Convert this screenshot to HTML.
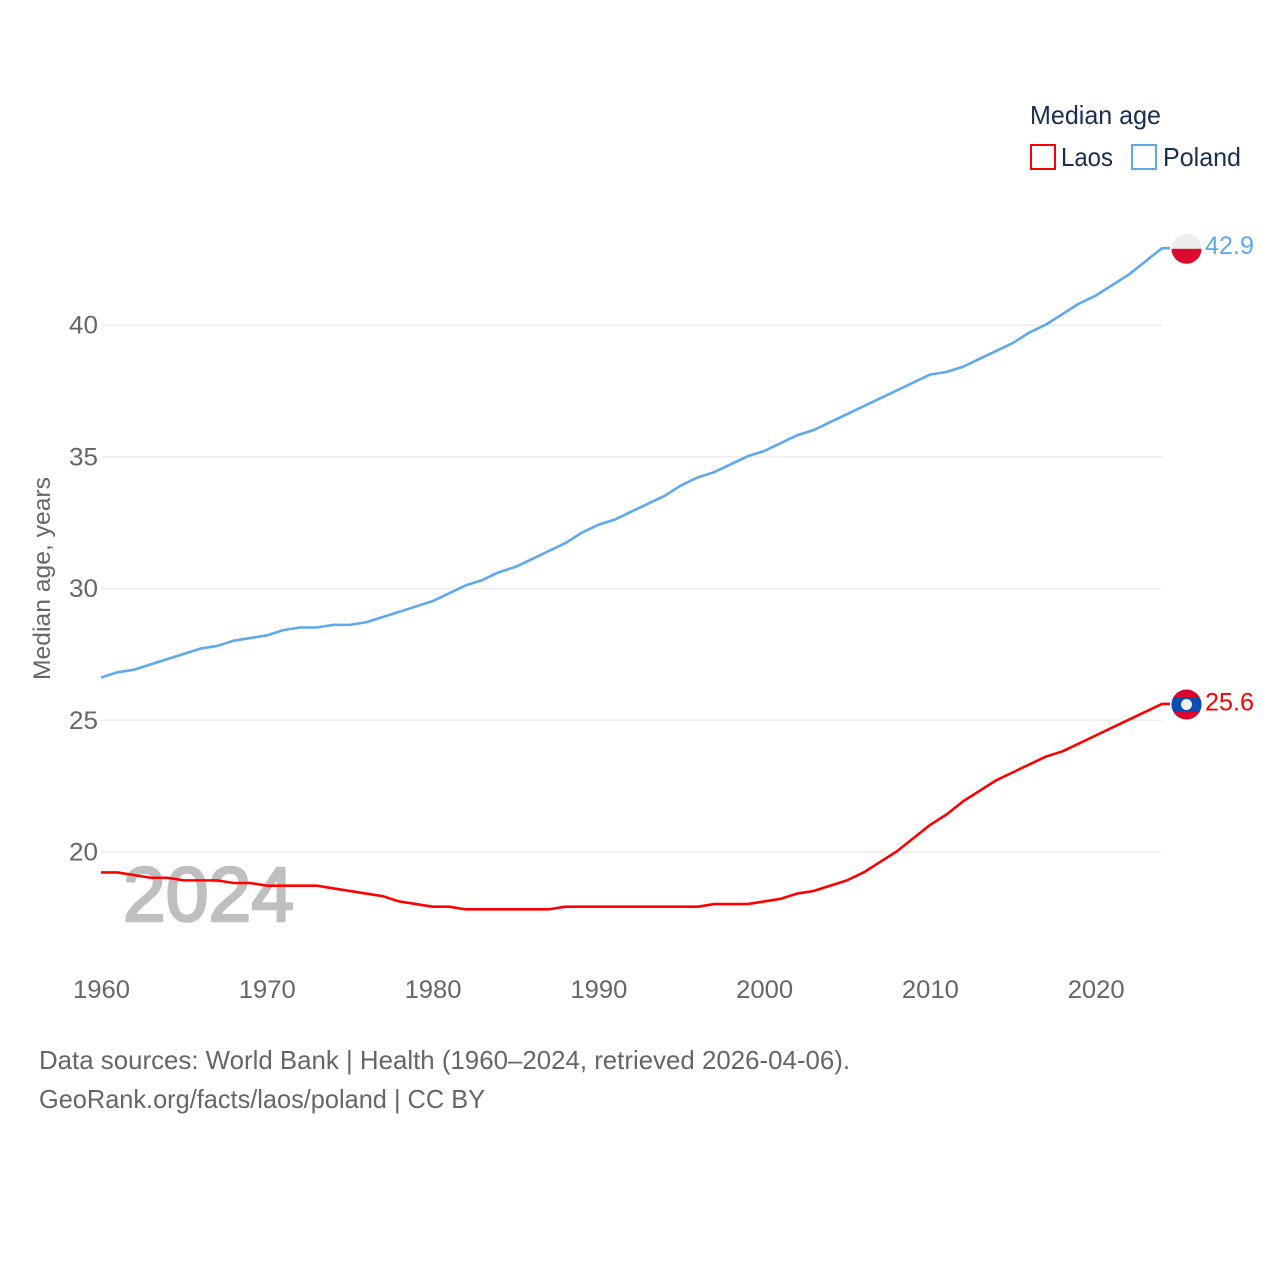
<!DOCTYPE html>
<html>
<head>
<meta charset="utf-8">
<title>Median age: Laos and Poland</title>
<style>
html,body{margin:0;padding:0;background:#fff;width:1280px;height:1280px;overflow:hidden}
svg{display:block;font-family:"Liberation Sans",sans-serif}
</style>
</head>
<body>
<svg id="chart" xmlns="http://www.w3.org/2000/svg" width="1280" height="1280" viewBox="0 0 1280 1280">
  <rect width="1280" height="1280" fill="#ffffff"/>
  <g id="grid"></g>
  <g id="yticks"></g>
  <g id="xticks"></g>
  <text x="123" y="921" font-size="77" font-weight="400" fill="#bfbfbf" stroke="#bfbfbf" stroke-width="2.6" stroke-linejoin="round" textLength="171" lengthAdjust="spacingAndGlyphs">2024</text>
  <text transform="translate(50,680) rotate(-90)" font-size="24.5" fill="#666666" textLength="203" lengthAdjust="spacingAndGlyphs">Median age, years</text>
  <g id="series"></g>

  <clipPath id="flag-pl-clip"><circle id="pl-clip-c" r="15"/></clipPath>
  <clipPath id="flag-la-clip"><circle id="la-clip-c" r="15"/></clipPath>
  <g id="flag-poland" clip-path="url(#flag-pl-clip)"></g>
  <g id="flag-laos" clip-path="url(#flag-la-clip)"></g>
  <g id="endlabels"></g>

  <g>
    <text x="1030" y="124" font-size="26" fill="#1a2f4f" textLength="131" lengthAdjust="spacingAndGlyphs">Median age</text>
    <rect x="1031" y="145" width="24" height="24" fill="#ffffff" stroke="#ff0000" stroke-width="2"/>
    <text x="1061" y="166" font-size="26" fill="#1a2f4f" textLength="52" lengthAdjust="spacingAndGlyphs">Laos</text>
    <rect x="1132" y="145" width="24" height="24" fill="#ffffff" stroke="#5fa8ee" stroke-width="2"/>
    <text x="1163" y="166" font-size="26" fill="#1a2f4f" textLength="78" lengthAdjust="spacingAndGlyphs">Poland</text>
  </g>

  <text x="39" y="1069" font-size="26" fill="#666666" textLength="811" lengthAdjust="spacingAndGlyphs">Data sources: World Bank | Health (1960–2024, retrieved 2026-04-06).</text>
  <text x="39" y="1108" font-size="26" fill="#666666" textLength="446" lengthAdjust="spacingAndGlyphs">GeoRank.org/facts/laos/poland | CC BY</text>
</svg>
<script>
const firstYear = 1960;
const lastYear = 2024;
const yTickValues = [20, 25, 30, 35, 40];
const xTickValues = [1960, 1970, 1980, 1990, 2000, 2010, 2020];
const polandValues = [26.6,26.8,26.9,27.1,27.3,27.5,27.7,27.8,28.0,28.1,28.2,28.4,28.5,28.5,28.6,28.6,28.7,28.9,29.1,29.3,29.5,29.8,30.1,30.3,30.6,30.8,31.1,31.4,31.7,32.1,32.4,32.6,32.9,33.2,33.5,33.9,34.2,34.4,34.7,35.0,35.2,35.5,35.8,36.0,36.3,36.6,36.9,37.2,37.5,37.8,38.1,38.2,38.4,38.7,39.0,39.3,39.7,40.0,40.4,40.8,41.1,41.5,41.9,42.4,42.9];
const laosValues = [19.2,19.2,19.1,19.0,19.0,18.9,18.9,18.9,18.8,18.8,18.7,18.7,18.7,18.7,18.6,18.5,18.4,18.3,18.1,18.0,17.9,17.9,17.8,17.8,17.8,17.8,17.8,17.8,17.9,17.9,17.9,17.9,17.9,17.9,17.9,17.9,17.9,18.0,18.0,18.0,18.1,18.2,18.4,18.5,18.7,18.9,19.2,19.6,20.0,20.5,21.0,21.4,21.9,22.3,22.7,23.0,23.3,23.6,23.8,24.1,24.4,24.7,25.0,25.3,25.6];

const NS = 'http://www.w3.org/2000/svg';
const plotLeft = 101, plotRight = 1162;
function xScale(year) { return plotLeft + (year - firstYear) * (plotRight - plotLeft) / (lastYear - firstYear); }
function yScale(v) { return 852 - (v - 20) * (852 - 325.2) / 20; }
function make(tag, attrs, parent, text) {
  const el = document.createElementNS(NS, tag);
  for (const k in attrs) el.setAttribute(k, attrs[k]);
  if (text !== undefined) el.textContent = text;
  parent.appendChild(el);
  return el;
}

const grid = document.getElementById('grid');
const yticks = document.getElementById('yticks');
yTickValues.forEach(function (v) {
  const line = make('line', {x1: plotLeft, x2: plotRight, y1: yScale(v), y2: yScale(v), stroke: '#eeeeee', 'stroke-width': 1.5}, grid);
  
  
  const label = make('text', {x: 98, y: yScale(v) + 8.5, 'text-anchor': 'end', 'font-size': 25, fill: '#666666', textLength: 29, lengthAdjust: 'spacingAndGlyphs'}, yticks, String(v));
  
  
});

const xticks = document.getElementById('xticks');
xTickValues.forEach(function (yr) {
  const label = make('text', {x: xScale(yr) + 0.5, y: 998, 'text-anchor': 'middle', 'font-size': 25, fill: '#666666', textLength: 57, lengthAdjust: 'spacingAndGlyphs'}, xticks, String(yr));
  
  
});

function drawSeries(values, color, seriesName) {
  const g = document.getElementById('series');
  const pts = values.map(function (v, i) { return xScale(firstYear + i).toFixed(2) + ',' + (yScale(v) - 0.6).toFixed(2); });
  const lastY = (yScale(values[values.length - 1]) - 0.6).toFixed(2);
  pts.push((plotRight + 8) + ',' + lastY);
  const line = make('polyline', {points: pts.join(' '), fill: 'none', stroke: color, 'stroke-width': 2.6, 'stroke-linejoin': 'round'}, g);
  
  
}
drawSeries(polandValues, '#5fa8ee', 'poland-line');
drawSeries(laosValues, '#ff0000', 'laos-line');

const flagX = 1186.5;
const plEnd = polandValues[polandValues.length - 1];
const laEnd = laosValues[laosValues.length - 1];
const plY = yScale(plEnd);
const laY = yScale(laEnd);

document.getElementById('pl-clip-c').setAttribute('cx', flagX);
document.getElementById('pl-clip-c').setAttribute('cy', plY);
document.getElementById('la-clip-c').setAttribute('cx', flagX);
document.getElementById('la-clip-c').setAttribute('cy', laY);

const fp = document.getElementById('flag-poland');
make('rect', {x: flagX - 15, y: plY - 15, width: 30, height: 15, fill: '#eeeeee'}, fp);
make('rect', {x: flagX - 15, y: plY, width: 30, height: 15, fill: '#dc0a2d'}, fp);

const fl = document.getElementById('flag-laos');
make('rect', {x: flagX - 15, y: laY - 15, width: 30, height: 30, fill: '#d90429'}, fl);
make('rect', {x: flagX - 15, y: laY - 7.5, width: 30, height: 15, fill: '#0a4fb0'}, fl);
make('circle', {cx: flagX, cy: laY, r: 5.5, fill: '#eeeeee'}, fl);

const endG = document.getElementById('endlabels');
const plLabel = make('text', {x: 1205, y: plY + 5, 'font-size': 25, fill: '#5fa8ee', textLength: 49, lengthAdjust: 'spacingAndGlyphs'}, endG, plEnd.toFixed(1));


const laLabel = make('text', {x: 1205, y: laY + 6, 'font-size': 25, fill: '#ff0000', textLength: 49, lengthAdjust: 'spacingAndGlyphs'}, endG, laEnd.toFixed(1));


</script>
</body>
</html>
